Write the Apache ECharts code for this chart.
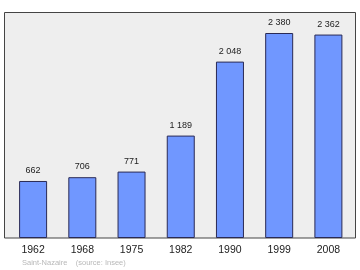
<!DOCTYPE html>
<html><head><meta charset="utf-8">
<script src="https://cdn.jsdelivr.net/npm/echarts@6/dist/echarts.min.js"></script>
<style>html,body{margin:0;padding:0;background:#fff}#c{width:360px;height:270px}</style>
</head><body><div id="c"></div>
<script>
const years = ['1962','1968','1975','1982','1990','1999','2008'];
const population = [662, 706, 771, 1189, 2048, 2380, 2362];
const footer = 'Saint-Nazaire    (source: Insee)';

const fmt = v => String(v).replace(/\B(?=(\d{3})+(?!\d))/g, ' ');
const chart = echarts.init(document.getElementById('c'), null, {renderer:'canvas'});
chart.setOption({
  animation:false,
  backgroundColor:'#ffffff',
  graphic:[
    {type:'rect', z:-10, shape:{x:4.5,y:12.5,width:351,height:225.5},
     style:{fill:'#eeeeee', stroke:'#444444', lineWidth:1}},
    {type:'text', left:22, top:259, style:{text:footer, fill:'#b8b8b8', font:'7.5px "Liberation Sans", Arial, sans-serif'}}
  ],
  grid:{left:8.5, right:7, top:12.5, bottom:32},
  xAxis:{type:'category', data:years, axisLine:{show:false}, axisTick:{show:false},
    axisLabel:{color:'#222', fontSize:10.5, margin:7, fontFamily:'"Liberation Sans", Arial, sans-serif'}},
  yAxis:{type:'value', min:0, max:2618, show:false, splitLine:{show:false}},
  series:[{type:'bar', data:population, barWidth:28,
    itemStyle:{color:'#7097ff', borderColor:'#2a2a55', borderWidth:1},
    label:{show:true, position:'top', distance:6, color:'#222', fontSize:9,
      fontFamily:'"Liberation Sans", Arial, sans-serif', formatter:p=>fmt(p.value)}}]
});
</script></body></html>
